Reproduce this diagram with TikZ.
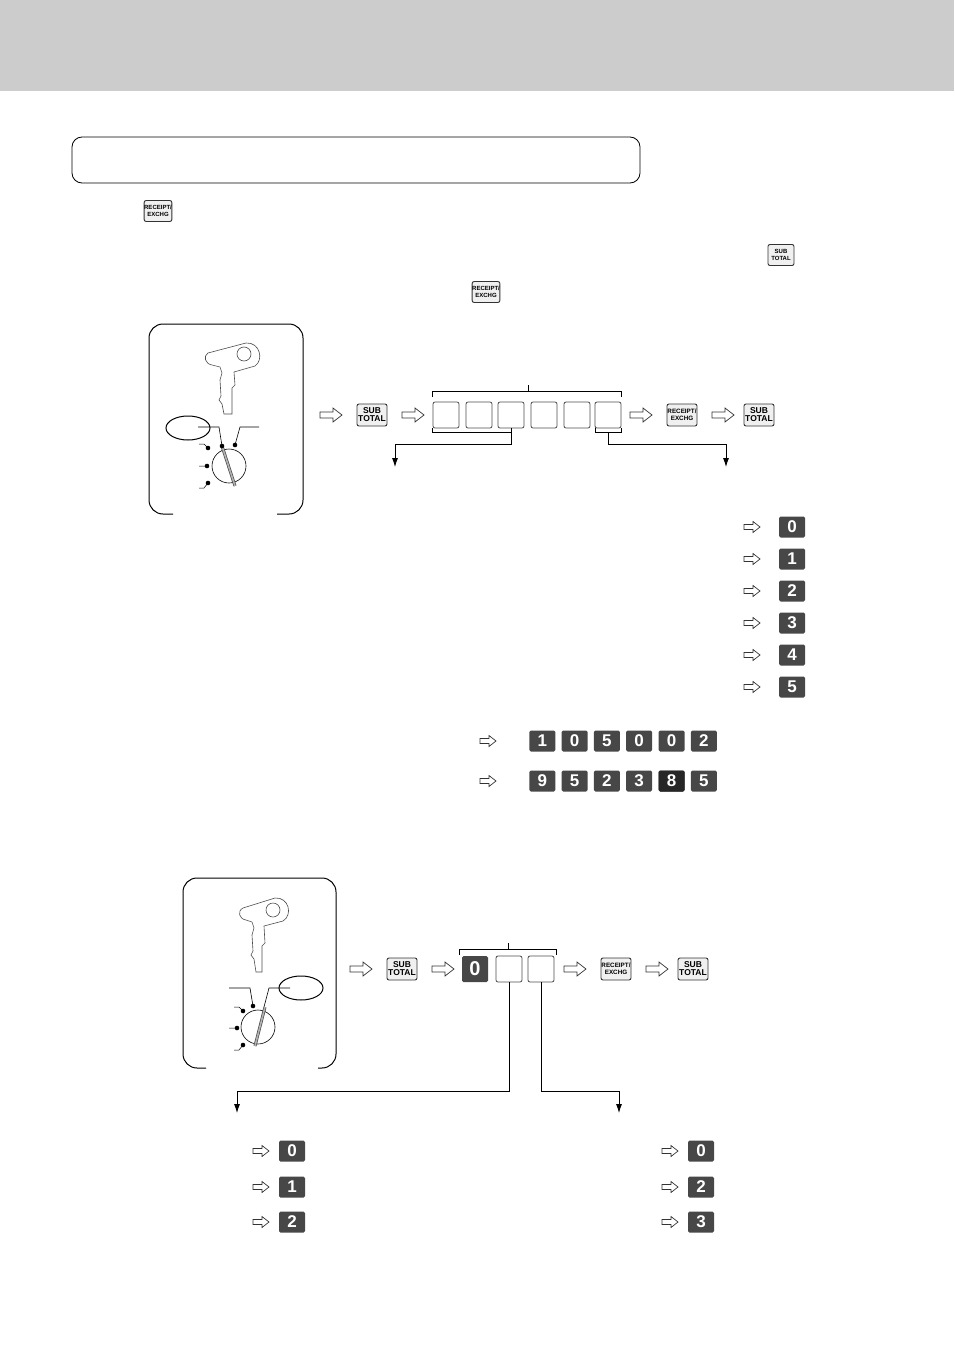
\documentclass[tikz,border=0pt]{standalone}
\usepackage{fontspec}
\setmainfont{Liberation Sans}
\usetikzlibrary{arrows.meta}
\begin{document}
\begin{tikzpicture}[x=1pt,y=-1pt,
  dkey/.style={fill=black!72,text=white,rounded corners=1.5pt,minimum width=26pt,minimum height=21pt,inner sep=0pt,font=\bfseries\fontsize{17}{17}\selectfont},
  fkey/.style={draw=black!80,line width=0.9pt,fill=black!6,rounded corners=2pt,minimum width=30pt,minimum height=22pt,inner sep=0pt,align=center,font=\bfseries\fontsize{8.5}{8}\selectfont},
  skey/.style={fkey,minimum width=26pt,minimum height=21pt,font=\bfseries\fontsize{6}{6.5}\selectfont},
  ebox/.style={draw=black!70,line width=0.8pt,rounded corners=2pt,minimum width=26pt,minimum height=26pt,inner sep=0pt},
  harr/.style={draw=black!80,line width=0.7pt,fill=white},
  ln/.style={line width=0.8pt},
  tip/.style={-{Latex[length=9pt,width=6pt]},line width=0.8pt}]
\useasboundingbox (0,0) rectangle (954,1351);
\fill[black!20] (0,0) rectangle (954,91);
\draw[line width=0.8pt,rounded corners=10pt] (72,137) rectangle (640,183);
% arrow macro
\def\bigarr#1#2{\draw[harr] (#1-11,#2-3)--(#1+2,#2-3)--(#1+2,#2-7)--(#1+11,#2)--(#1+2,#2+7)--(#1+2,#2+3)--(#1-11,#2+3)--cycle;}
\def\smarr#1#2{\draw[harr] (#1-8,#2-2.5)--(#1+1,#2-2.5)--(#1+1,#2-5.5)--(#1+8,#2)--(#1+1,#2+5.5)--(#1+1,#2+2.5)--(#1-8,#2+2.5)--cycle;}
% text keys
\node[skey] (t1) at (158,211) {RECEIPT/\\EXCHG};
\node[skey] (t2) at (781,255) {SUB\\TOTAL};
\node[skey] (t3) at (486,292) {RECEIPT/\\EXCHG};
% ---------- panel 1 ----------
\draw[line width=1pt,rounded corners=14pt] (173,514)--(149,514)--(149,324)--(303,324)--(303,514)--(277,514);
\draw[line width=0.6pt,black!70] (232,414)--(232,388)--(235,385)--(234,372)--(255,366) .. controls (264,360) and (260,342) .. (246,343)--(208,353) .. controls (203,356) and (205,364) .. (212,365)--(220,367)--(222,373)--(220,380)--(221,396)--(219,400)--(222,404)--(224,414)--cycle;
\draw[line width=0.6pt,black!70] (244,354) circle (7);
\draw[line width=1pt] (188,428) ellipse (22 and 12);
\draw[line width=0.6pt] (198,427)--(219,427)--(222,446);
\draw[line width=0.6pt] (235,445)--(240,427)--(259,427);
\draw[line width=0.6pt] (229,466) circle (17);
\draw[line width=0.5pt] (208,448)--(204,444)--(199,444) (207,466)--(199,466) (208,483)--(204,488)--(199,488);
\draw[line width=3pt,black!70] (222,446)--(235,486);
\draw[line width=1.6pt,black!30] (222,446)--(235,486);
\foreach \p/\q in {222/446,235/445,208/448,207/466,208/483}{\fill (\p,\q) circle (2.3);}
% flow 1
\bigarr{331}{415}
\node[fkey] (s1) at (372,415) {SUB\\TOTAL};
\bigarr{413}{415}
\foreach \i/\xx in {1/446,2/479,3/511,4/544,5/577,6/608}{\node[ebox] (b\i) at (\xx,415) {};}
\draw[ln] (432,397)--(432,391)--(621,391)--(621,397);
\draw[ln] (528,391)--(528,385);
\draw[ln] (432,428)--(432,432)--(511,432)--(511,428);
\draw[ln] (595,428)--(595,432)--(621,432)--(621,428);
\coordinate (c1) at (511,432); \coordinate (c2) at (608,432);
\draw[tip] (c1)--(511,444)--(395,444)--(395,467);
\draw[tip] (c2)--(608,444)--(726,444)--(726,467);
\bigarr{641}{415}
\node[fkey,font=\bfseries\fontsize{6.3}{7}\selectfont] (r1) at (682,415) {RECEIPT/\\EXCHG};
\bigarr{723}{415}
\node[fkey] (s2) at (759,415) {SUB\\TOTAL};
% right list
\foreach \d/\yy in {0/527,1/559,2/591,3/623,4/655,5/687}{\smarr{752}{\yy}\node[dkey] (k\d) at (792,\yy) {\d};}
% number rows
\smarr{488}{741}\smarr{488}{781}
\foreach \d [count=\i] in {1,0,5,0,0,2}{\node[dkey] (ra\i) at (510+\i*32.3,741) {\d};}
\foreach \d [count=\i] in {9,5,2,3,8,5}{\node[dkey] (rb\i) at (510+\i*32.3,781) {\d};}
\node[dkey,fill=black!85] at (rb5) {8};
% ---------- panel 2 ----------
\draw[line width=1pt,rounded corners=14pt] (206,1068)--(183,1068)--(183,878)--(336,878)--(336,1068)--(318,1068);
\draw[line width=0.6pt,black!70] (262,972)--(262,946)--(265,943)--(264,926)--(283,921) .. controls (293,915) and (289,897) .. (275,898)--(243,908) .. controls (237,911) and (239,919) .. (246,920)--(252,922)--(254,928)--(252,935)--(253,951)--(251,955)--(254,959)--(256,972)--cycle;
\draw[line width=0.6pt,black!70] (273,910) circle (7);
\draw[line width=1pt] (301,988) ellipse (22 and 12);
\draw[line width=0.6pt] (229,988)--(250,988)--(253,1006);
\draw[line width=0.6pt] (264,1007)--(269,988)--(290,988);
\draw[line width=0.6pt] (258,1027) circle (17);
\draw[line width=0.5pt] (243,1011)--(239,1007)--(234,1007) (237,1028)--(229,1028) (243,1045)--(239,1050)--(234,1050);
\draw[line width=3pt,black!70] (265,1007)--(255,1046);
\draw[line width=1.6pt,black!30] (265,1007)--(255,1046);
\foreach \p/\q in {253/1006,243/1011,237/1028,243/1045}{\fill (\p,\q) circle (2.3);}
% flow 2
\bigarr{361}{969}
\node[fkey] (s3) at (402,969) {SUB\\TOTAL};
\bigarr{443}{969}
\node[dkey,minimum height=26pt,font=\bfseries\fontsize{20}{20}\selectfont] (z0) at (475,969) {0};
\node[ebox] (e1) at (509,969) {};
\node[ebox] (e2) at (541,969) {};
\draw[ln] (459,955)--(459,949)--(556,949)--(556,955);
\draw[ln] (508,949)--(508,943);
\draw[tip] (e1.south)--(509,1091)--(237,1091)--(237,1113);
\draw[tip] (e2.south)--(541,1091)--(619,1091)--(619,1113);
\bigarr{575}{969}
\node[fkey,font=\bfseries\fontsize{6.3}{7}\selectfont] (r2) at (616,969) {RECEIPT/\\EXCHG};
\bigarr{657}{969}
\node[fkey] (s4) at (693,969) {SUB\\TOTAL};
\foreach \d/\yy in {0/1151,1/1187,2/1222}{\smarr{261}{\yy}\node[dkey] (l\d) at (292,\yy) {\d};}
\foreach \d/\yy in {0/1151,2/1187,3/1222}{\smarr{670}{\yy}\node[dkey] (m\d) at (701,\yy) {\d};}
\end{tikzpicture}
\end{document}
